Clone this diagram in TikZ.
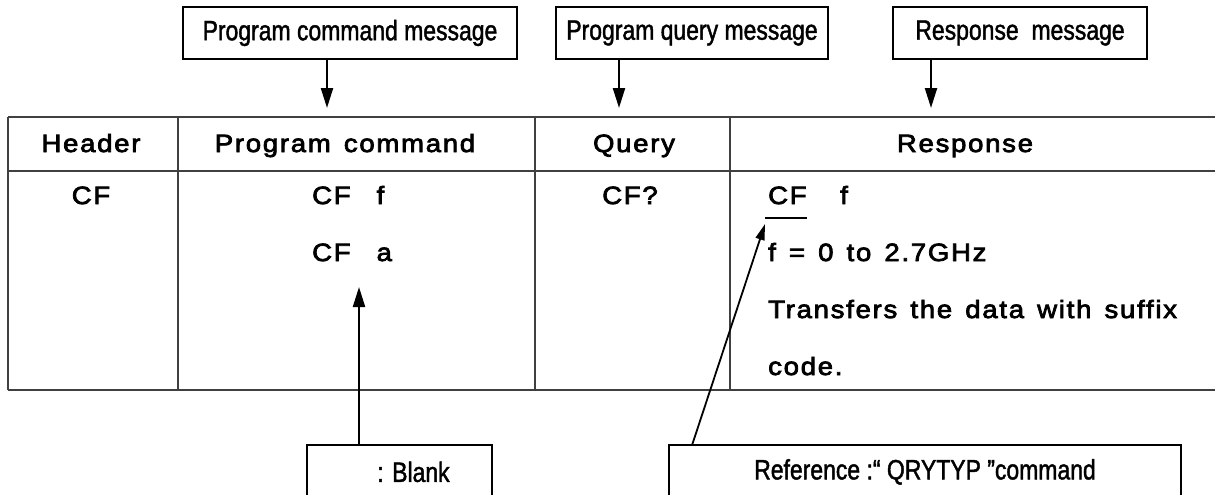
\documentclass[tikz,border=0pt]{standalone}
\usepackage{fontspec}
\setmainfont{Liberation Sans}
\newfontfamily\tabfont[FakeStretch=1.1,LetterSpace=7,WordSpace=1.4,FakeBold=3]{Liberation Sans}
\newfontfamily\tagfont[FakeStretch=0.82,FakeBold=1.5]{Liberation Sans}
\usetikzlibrary{arrows.meta,calc}

\begin{document}
\begin{tikzpicture}[x=1pt,y=-1pt,
  rule/.style={line width=1.3pt,draw=black!75},
  tagbox/.style={draw,line width=1.8pt,minimum height=52pt,inner sep=0pt,
    font=\tagfont\fontsize{28}{28}\selectfont},
  cell/.style={inner sep=0pt,font=\tabfont\fontsize{25}{25}\selectfont},
  pointer/.style={line width=2.2pt,-{Triangle[length=20pt,width=12pt]}},
  thinpointer/.style={line width=1.8pt,-{Triangle[length=16pt,width=9pt]}},
]
\useasboundingbox (0,0) rectangle (1215,495);

% table rules
\draw[rule] (8,117) -- (1215,117);
\draw[rule] (8,171) -- (1215,171);
\draw[rule] (8,390) -- (1215,390);
\draw[rule] (8,117) -- (8,390);
\draw[rule] (178,117) -- (178,390);
\draw[rule] (535,117) -- (535,390);
\draw[rule] (730,117) -- (730,390);

% column headings
\node[cell,anchor=base] (hHeader) at (91,152) {Header};
\node[cell,anchor=base] (hCmd) at (345,152) {Program command};
\node[cell,anchor=base] (hQuery) at (634,152) {Query};
\node[cell,anchor=base] (hResp) at (965,152) {Response};

% body
\node[cell,anchor=base] (cHeader) at (91,204) {CF};
\node[cell,anchor=base west] (cCmdF) at (312,204) {CF\hspace{26pt}f};
\node[cell,anchor=base west] (cCmdA) at (312,261) {CF\hspace{26pt}a};
\node[cell,anchor=base] (cQuery) at (630,204) {CF?};
\node[cell,anchor=base west] (rCF) at (768,204) {CF};
\node[cell,anchor=base west] (rF) at (840,204) {f};
\node[cell,anchor=base west] (rRange) at (768,261) {f = 0 to 2.7GHz};
\node[cell,anchor=base west] (rText) at (768,318) {Transfers the data with suffix};
\node[cell,anchor=base west] (rCode) at (768,375) {code.};
\draw[line width=1.3pt] ($(rCF.base west)+(-3,14)$) -- ($(rCF.base east)+(0,14)$);

% message labels above the table
\node[tagbox,minimum width=334pt] (pcm) at (350,33) {Program command message};
\node[tagbox,minimum width=272pt] (pqm) at (692,33) {Program query message};
\node[tagbox,minimum width=254pt] (rsm) at (1020,33) {Response\ \ message};
\coordinate (pcmtip) at (327,108);
\coordinate (pqmtip) at (619,108);
\coordinate (rsmtip) at (931,108);
\draw[pointer] (pcm.south -| pcmtip) -- (pcmtip);
\draw[pointer] (pqm.south -| pqmtip) -- (pqmtip);
\draw[pointer] (rsm.south -| rsmtip) -- (rsmtip);

% notes below the table (open at the lower edge)
\node[tagbox,draw=none,minimum width=183pt,anchor=north] (blank) at (399.5,445) {\hspace*{28pt}: Blank};
\node[tagbox,draw=none,minimum width=510pt,anchor=north] (qref) at (925,445) {Reference :“ QRYTYP ”command};
\draw[line width=1.8pt] (blank.north west) ++(0,60) |- (blank.north east) -- ++(0,60);
\draw[line width=1.8pt] (qref.north west) ++(0,60) |- (qref.north east) -- ++(0,60);

\coordinate (blanktip) at (359,287);
\draw[pointer] (blank.north -| blanktip) -- (blanktip);
\coordinate (reftail) at ($(qref.north west)+(23,0)$);
\coordinate (reftip) at (765,224);
\draw[thinpointer] (reftail) -- (reftip);
\end{tikzpicture}
\end{document}
